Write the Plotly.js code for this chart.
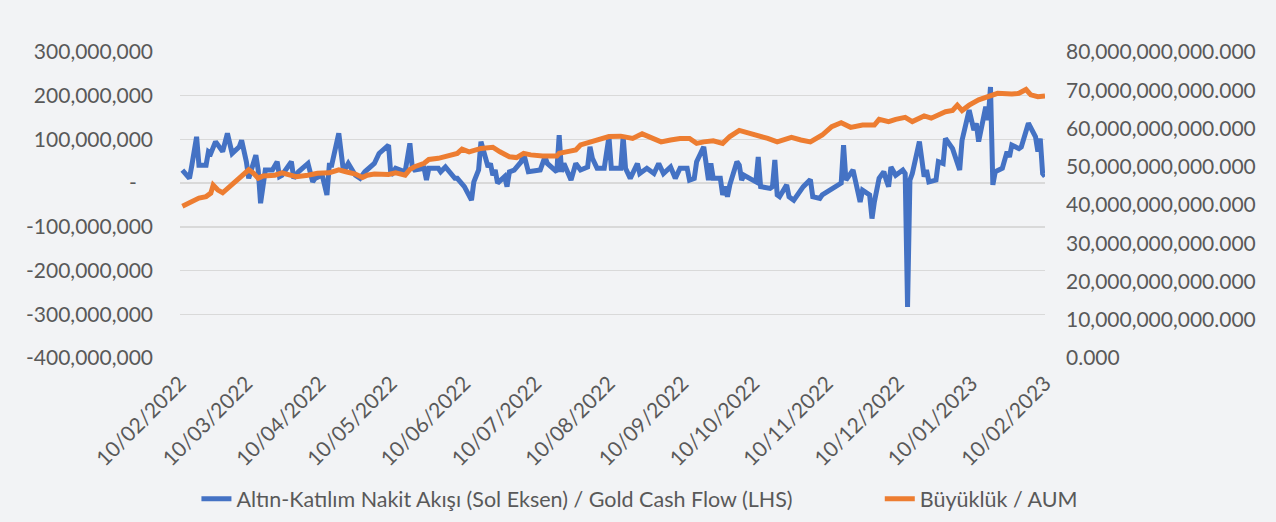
<!DOCTYPE html>
<html>
<head>
<meta charset="utf-8">
<script src="https://cdn.plot.ly/plotly-3.0.1.min.js"></script>
<style>
  html, body { margin: 0; padding: 0; background: #f2f3f5; }
  #chart { width: 1276px; height: 522px; }
</style>
</head>
<body>
<div id="chart"></div>
<script>
// ---- Gold cash flow (left axis), values in millions ----
const flowDates = [
"2022-02-11","2022-02-14","2022-02-15","2022-02-17","2022-02-18","2022-02-21","2022-02-22","2022-02-23","2022-02-25","2022-02-28",
"2022-03-02","2022-03-04","2022-03-07","2022-03-08","2022-03-10","2022-03-11","2022-03-14","2022-03-15","2022-03-16","2022-03-18",
"2022-03-21","2022-03-23","2022-03-24","2022-03-25","2022-03-29","2022-03-30","2022-04-01","2022-04-05","2022-04-07","2022-04-08",
"2022-04-11","2022-04-13","2022-04-14","2022-04-15","2022-04-18","2022-04-20","2022-04-22","2022-04-25","2022-04-27","2022-04-29",
"2022-05-03","2022-05-05","2022-05-09","2022-05-10","2022-05-12","2022-05-16","2022-05-18","2022-05-19","2022-05-20","2022-05-24",
"2022-05-25","2022-05-26","2022-05-30","2022-05-31","2022-06-02","2022-06-06","2022-06-07","2022-06-10","2022-06-13","2022-06-14",
"2022-06-16","2022-06-17","2022-06-20","2022-06-21","2022-06-22","2022-06-23","2022-06-24","2022-06-27","2022-06-28","2022-06-29",
"2022-07-01","2022-07-04","2022-07-05","2022-07-07","2022-07-12","2022-07-14","2022-07-15","2022-07-18","2022-07-19","2022-07-20",
"2022-07-21","2022-07-22","2022-07-25","2022-07-27","2022-07-29","2022-08-01","2022-08-02","2022-08-03","2022-08-05","2022-08-08",
"2022-08-10","2022-08-11","2022-08-15","2022-08-16","2022-08-17","2022-08-19","2022-08-22","2022-08-23","2022-08-26","2022-08-29",
"2022-08-31","2022-09-02","2022-09-05","2022-09-07","2022-09-09","2022-09-12","2022-09-13","2022-09-15","2022-09-16","2022-09-19",
"2022-09-20","2022-09-21","2022-09-22","2022-09-23","2022-09-26","2022-09-27","2022-09-28","2022-09-29","2022-09-30","2022-10-03",
"2022-10-04","2022-10-05","2022-10-06","2022-10-07","2022-10-11","2022-10-12","2022-10-13","2022-10-17","2022-10-18","2022-10-19",
"2022-10-20","2022-10-21","2022-10-24","2022-10-25","2022-10-27","2022-10-31","2022-11-03","2022-11-04","2022-11-07","2022-11-08",
"2022-11-11","2022-11-14","2022-11-16","2022-11-17","2022-11-18","2022-11-21","2022-11-24","2022-11-25","2022-11-28","2022-11-29",
"2022-11-30","2022-12-02","2022-12-04","2022-12-05","2022-12-06","2022-12-07","2022-12-09","2022-12-12","2022-12-13","2022-12-14",
"2022-12-15","2022-12-16","2022-12-19","2022-12-21","2022-12-22","2022-12-23","2022-12-26","2022-12-27","2022-12-29","2022-12-30",
"2023-01-02","2023-01-05","2023-01-06","2023-01-09","2023-01-11","2023-01-12","2023-01-13","2023-01-16","2023-01-17","2023-01-18",
"2023-01-19","2023-01-20","2023-01-23","2023-01-25","2023-01-26","2023-01-27","2023-01-30","2023-01-31","2023-02-03","2023-02-06",
"2023-02-07","2023-02-08","2023-02-09","2023-02-10"
];
const flowMillions = [
30,11,41,106,41,41,72,68,95,72,
114,68,83,98,49,11,64,30,-46,30,
30,49,15,18,49,11,26,45,3,11,
18,-27,41,41,114,26,45,18,11,26,
45,68,87,18,34,26,91,37,30,34,
7,34,34,26,37,11,11,-8,-39,3,
30,95,37,45,18,30,0,15,-8,26,
30,49,68,26,30,60,45,30,26,110,
26,45,7,45,30,37,83,57,34,34,
106,34,34,106,34,11,45,22,34,22,
45,22,37,11,34,34,7,11,49,83,
37,7,45,11,11,-27,-8,-31,-4,49,
41,7,18,15,3,60,-8,-12,-8,53,
-27,-31,-4,-31,-39,-8,8,-31,-35,-27,
-16,-4,0,87,7,30,-43,-16,-27,-81,
-43,11,26,7,-8,37,18,30,22,-283,
7,22,95,15,30,3,7,49,45,102,
79,30,98,167,121,137,95,175,144,220,
-4,26,34,72,60,87,79,83,137,106,
72,102,22,15
];

// ---- AUM (right axis), values in billions ----
const aumDates = [
"2022-02-11","2022-02-14","2022-02-18","2022-02-21","2022-02-23","2022-02-24","2022-02-26","2022-02-28","2022-03-03","2022-03-06",
"2022-03-09","2022-03-11","2022-03-13","2022-03-15","2022-03-17","2022-03-22","2022-03-25","2022-03-28","2022-03-31","2022-04-05",
"2022-04-09","2022-04-14","2022-04-18","2022-04-21","2022-04-25","2022-04-28","2022-04-30","2022-05-03","2022-05-09","2022-05-12",
"2022-05-16","2022-05-18","2022-05-20","2022-05-24","2022-05-26","2022-05-30","2022-06-02","2022-06-05","2022-06-07","2022-06-09",
"2022-06-12","2022-06-17","2022-06-22","2022-06-25","2022-06-29","2022-07-02","2022-07-05","2022-07-08","2022-07-13","2022-07-19",
"2022-07-20","2022-07-23","2022-07-27","2022-07-29","2022-08-02","2022-08-06","2022-08-10","2022-08-15","2022-08-17","2022-08-20",
"2022-08-24","2022-08-28","2022-09-01","2022-09-05","2022-09-09","2022-09-13","2022-09-16","2022-09-19","2022-09-23","2022-09-27",
"2022-09-30","2022-10-04","2022-10-07","2022-10-12","2022-10-16","2022-10-20","2022-10-26","2022-10-30","2022-11-03","2022-11-08",
"2022-11-12","2022-11-16","2022-11-20","2022-11-25","2022-11-30","2022-12-02","2022-12-06","2022-12-09","2022-12-13","2022-12-16",
"2022-12-21","2022-12-24","2022-12-30","2023-01-02","2023-01-04","2023-01-06","2023-01-09","2023-01-13","2023-01-17","2023-01-21",
"2023-01-27","2023-01-30","2023-02-02","2023-02-04","2023-02-07","2023-02-10"
];
const aumBillions = [
39.7,40.6,41.8,42.2,43.1,45.2,43.9,43.2,44.8,46.5,
48.4,49.2,48.3,47.0,47.6,47.8,48.4,47.8,47.4,47.8,
48.3,48.4,49.2,48.7,48.1,47.2,47.8,48.1,48.0,48.4,
47.8,49.3,50.0,50.9,51.9,52.2,52.6,53.1,53.5,54.6,
53.9,54.8,55.1,53.9,52.6,52.4,53.5,53.1,52.8,52.8,
53.5,53.9,54.4,55.7,56.5,57.4,57.9,58.0,57.7,57.4,
58.6,57.4,56.5,57.0,57.4,57.4,56.1,56.5,56.8,56.1,
57.9,59.5,59.0,58.3,57.4,56.5,57.7,57.0,56.5,58.3,
60.5,61.5,60.3,60.9,60.9,62.4,61.8,62.4,62.9,61.8,
63.3,62.7,64.4,64.7,66.1,64.7,66.1,67.5,68.5,69.2,
69.0,69.2,70.2,68.8,68.3,68.5
];

// ---- Axis ticks ----
const leftTickVals = [300e6, 200e6, 100e6, 0, -100e6, -200e6, -300e6, -400e6];
const leftTickText = ["300,000,000", "200,000,000", "100,000,000", "-\u00a0\u00a0\u00a0", "-100,000,000", "-200,000,000", "-300,000,000", "-400,000,000"];
const rightTickVals = [80e9, 70e9, 60e9, 50e9, 40e9, 30e9, 20e9, 10e9, 0];
const rightTickText = ["80,000,000,000.000", "70,000,000,000.000", "60,000,000,000.000", "50,000,000,000.000", "40,000,000,000.000", "30,000,000,000.000", "20,000,000,000.000", "10,000,000,000.000", "0.000"];
const xStart = "2022-02-10";
const xEnd = "2023-02-10";

const seriesNames = ["Altın-Katılım Nakit Akışı (Sol Eksen) / Gold Cash Flow (LHS)", "Büyüklük / AUM"];

const textColor = "#595959";
const fontFam = "Lato, 'Open Sans', sans-serif";

const traces = [
  {
    x: aumDates, y: aumBillions.map(v => v * 1e9),
    name: seriesNames[1], type: "scatter", mode: "lines",
    line: { color: "#ED7D31", width: 5 }, yaxis: "y2", legend: "legend2"
  },
  {
    x: flowDates, y: flowMillions.map(v => v * 1e6),
    name: seriesNames[0], type: "scatter", mode: "lines",
    line: { color: "#4472C4", width: 5 }, yaxis: "y", legend: "legend"
  }
];

const legendCommon = {
  orientation: "h", xanchor: "left", y: -0.46, yanchor: "middle",
  bgcolor: "rgba(0,0,0,0)", font: { size: 21.5, color: textColor }
};

const layout = {
  width: 1276, height: 522,
  paper_bgcolor: "#f2f3f5", plot_bgcolor: "#f2f3f5",
  margin: { l: 180, r: 231, t: 52, b: 164, autoexpand: false },
  font: { family: fontFam, color: textColor, size: 20 },
  showlegend: true,
  legend: Object.assign({}, legendCommon, { x: 0.019 }),
  legend2: Object.assign({}, legendCommon, { x: 0.809 }),
  xaxis: {
    type: "date", range: [xStart, xEnd], tick0: xStart, dtick: "M1",
    tickformat: "%d/%m/%Y", tickangle: -45, showgrid: false, showline: false,
    zeroline: false, ticks: "", tickfont: { size: 21, color: textColor },
    ticklabelstandoff: 8, automargin: false
  },
  xaxis2: {
    type: "date", overlaying: "x", anchor: "free", position: 400 / 700,
    range: [xStart, xEnd], tick0: xStart, dtick: "M1",
    showticklabels: false, ticks: "outside", ticklen: 7, tickwidth: 1.5, tickcolor: "#d0d0d0",
    showline: true, linecolor: "#d0d0d0", linewidth: 1.5, showgrid: false, zeroline: false,
    automargin: false
  },
  yaxis: {
    range: [-400e6, 300e6], tickvals: leftTickVals, ticktext: leftTickText,
    showgrid: true, gridcolor: "#d9d9d9", gridwidth: 1.5, zeroline: false,
    showline: false, ticks: "", tickfont: { size: 21, color: textColor },
    ticklabelstandoff: 26, automargin: false
  },
  yaxis2: {
    overlaying: "y", side: "right", range: [0, 80e9],
    tickvals: rightTickVals, ticktext: rightTickText,
    showgrid: false, zeroline: false, showline: false, ticks: "",
    tickfont: { size: 21, color: textColor }, ticklabelstandoff: 20, automargin: false
  }
};

Plotly.newPlot("chart", traces, layout, { displayModeBar: false, staticPlot: true });
</script>
</body>
</html>
